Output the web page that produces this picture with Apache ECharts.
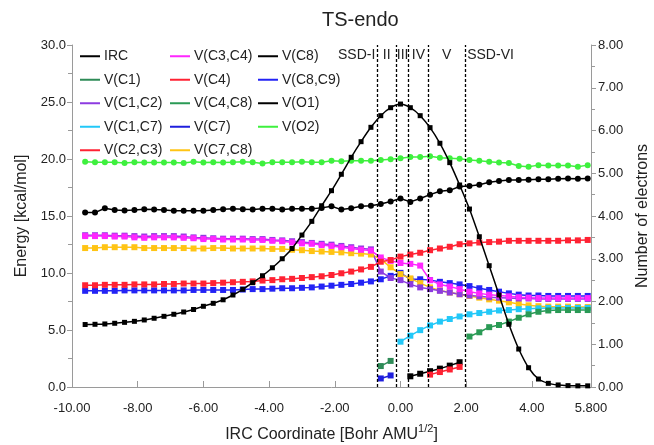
<!DOCTYPE html>
<html><head><meta charset="utf-8">
<script src="https://cdn.jsdelivr.net/npm/echarts/dist/echarts.min.js"></script>
<style>html,body{margin:0;padding:0;background:#fff}#c{width:654px;height:445px}</style>
</head><body><div id="c"></div>
<script>
// ---- data ----
const xs = [-9.6,-9.3,-9.0,-8.7,-8.4,-8.1,-7.8,-7.5,-7.2,-6.9,-6.6,-6.3,-6.0,-5.7,-5.4,-5.1,-4.8,-4.5,-4.2,-3.9,-3.6,-3.3,-3.0,-2.7,-2.4,-2.1,-1.8,-1.5,-1.2,-0.9,-0.6,-0.3,0.0,0.3,0.6,0.9,1.2,1.5,1.8,2.1,2.4,2.7,3.0,3.3,3.6,3.9,4.2,4.5,4.8,5.1,5.4,5.7];
const IRC = [5.48,5.50,5.53,5.59,5.67,5.76,5.88,6.03,6.20,6.38,6.58,6.80,7.08,7.34,7.65,8.07,8.57,9.15,9.76,10.46,11.25,12.15,13.33,14.53,15.90,17.22,18.66,20.15,21.52,22.78,23.80,24.50,24.82,24.50,23.80,22.75,21.38,19.68,17.72,15.61,13.18,10.64,8.07,5.50,3.33,1.69,0.70,0.32,0.18,0.12,0.10,0.10];
const V_O2 = [5.27,5.26,5.26,5.26,5.24,5.26,5.25,5.25,5.25,5.25,5.24,5.27,5.25,5.26,5.25,5.26,5.27,5.26,5.23,5.26,5.26,5.26,5.27,5.26,5.26,5.29,5.28,5.29,5.29,5.29,5.31,5.33,5.35,5.38,5.38,5.40,5.36,5.35,5.34,5.31,5.29,5.27,5.25,5.24,5.17,5.15,5.19,5.18,5.18,5.18,5.15,5.19];
const V_O1 = [4.08,4.08,4.18,4.14,4.13,4.14,4.16,4.15,4.14,4.12,4.12,4.12,4.12,4.14,4.16,4.17,4.16,4.15,4.17,4.17,4.15,4.17,4.17,4.17,4.19,4.23,4.15,4.18,4.23,4.24,4.28,4.34,4.41,4.33,4.41,4.50,4.58,4.60,4.69,4.70,4.73,4.79,4.82,4.84,4.84,4.85,4.86,4.86,4.87,4.88,4.87,4.88];
const V_C2C3 = [2.38,2.38,2.39,2.39,2.39,2.40,2.40,2.40,2.41,2.41,2.42,2.42,2.42,2.43,2.44,2.45,2.46,2.47,2.49,2.50,2.52,2.53,2.55,2.57,2.59,2.62,2.66,2.70,2.75,2.81,2.93,2.97,3.05,3.10,3.14,3.20,3.24,3.28,3.34,3.36,3.38,3.39,3.40,3.42,3.42,3.42,3.42,3.42,3.42,3.43,3.43,3.44];
const V_C8C9 = [2.25,2.25,2.25,2.25,2.26,2.26,2.26,2.26,2.26,2.26,2.26,2.27,2.27,2.27,2.27,2.27,2.28,2.29,2.29,2.30,2.31,2.31,2.32,2.33,2.35,2.37,2.39,2.41,2.44,2.47,2.52,2.60,2.67,2.52,2.52,2.50,2.46,2.43,2.40,2.36,2.31,2.27,2.23,2.19,2.16,2.14,2.14,2.13,2.13,2.13,2.13,2.13];
const V_C7C8 = [3.25,3.25,3.27,3.27,3.27,3.27,3.25,3.25,3.25,3.25,3.25,3.24,3.24,3.25,3.25,3.24,3.24,3.24,3.24,3.23,3.23,3.21,3.20,3.18,3.17,3.16,3.15,3.13,3.12,3.10,2.99,2.80,2.64,2.54,2.43,2.33,2.26,2.21,2.17,2.13,2.09,2.05,2.02,1.98,1.94,1.91,1.89,1.88,1.88,1.88,1.87,1.87];
const V_C3C4 = [3.53,3.53,3.53,3.52,3.52,3.50,3.49,3.50,3.50,3.50,3.49,3.48,3.46,3.46,3.45,3.45,3.45,3.44,3.44,3.42,3.41,3.38,3.36,3.35,3.32,3.30,3.27,3.24,3.21,3.19,3.03,2.95,2.90,2.88,2.84,2.50,2.40,2.35,2.29,2.23,2.19,2.16,2.14,2.12,2.10,2.09,2.08,2.08,2.08,2.08,2.08,2.08];
const V_C1C2 = [3.55,3.55,3.55,3.54,3.54,3.53,3.52,3.53,3.53,3.53,3.52,3.50,3.49,3.48,3.47,3.47,3.47,3.46,3.46,3.44,3.43,3.41,3.39,3.37,3.35,3.33,3.30,3.27,3.24,3.22,2.70,2.55,2.50,2.40,2.33,2.29,2.25,2.21,2.17,2.14,2.12,2.10,2.09,2.08,2.07,2.07,2.06,2.06,2.06,2.06,2.06,2.06];
const V_C1C7_X = [0.0,0.3,0.6,0.9,1.2,1.5,1.8,2.1,2.4,2.7,3.0,3.3,3.6,3.9,4.2,4.5,4.8,5.1,5.4,5.7];
const V_C1C7 = [1.06,1.20,1.33,1.44,1.53,1.59,1.65,1.70,1.73,1.76,1.79,1.80,1.82,1.83,1.84,1.85,1.85,1.85,1.85,1.85];
const V_C4C8_X = [2.1,2.4,2.7,3.0,3.3,3.6,3.9,4.2,4.5,4.8,5.1,5.4,5.7];
const V_C4C8 = [1.18,1.28,1.40,1.45,1.53,1.62,1.70,1.76,1.79,1.80,1.80,1.80,1.80];
const V_C1_X = [-0.6,-0.3];
const V_C1 = [0.49,0.61];
const V_C7_X = [-0.6,-0.3];
const V_C7 = [0.20,0.27];
const V_C8_X = [0.3,0.6,0.9,1.2,1.5,1.8];
const V_C8 = [0.25,0.31,0.37,0.43,0.50,0.58];
const V_C4_X = [0.9,1.2,1.5,1.8];
const V_C4 = [0.29,0.35,0.41,0.47];
const SSD_BOUNDS = [-0.72,-0.12,0.25,0.84,1.97];
const SSD_NAMES = ['SSD-I','II','III','IV','V','SSD-VI'];
const LEFT_TICKS = [0,5,10,15,20,25,30];
const RIGHT_TICKS = [0,1,2,3,4,5,6,7,8];

// ---- chart ----
const FONT = 'Liberation Sans, Arial, Helvetica, sans-serif';
const TXT = '#222';
const AX = '#9a9a9a';
function pairs(x, y){ return x.map((v,i)=>[v, y[i]]); }
function ser(name, x, y, color, yIdx, symbol, size, z){
  return {name, type:'line', yAxisIndex:yIdx, data:pairs(x,y), symbol, symbolSize:size,
    showSymbol:true, showAllSymbol:true, lineStyle:{color, width:1.5}, itemStyle:{color},
    emphasis:{disabled:true}, animation:false, z:z||2, smooth: name==='IRC' ? 0.25 : false};
}
const series = [
  ser('V(C8,C9)', xs, V_C8C9, '#2323f5', 1, 'rect', 6),
  ser('V(C7,C8)', xs, V_C7C8, '#ffc414', 1, 'rect', 6),
  ser('V(C1,C2)', xs, V_C1C2, '#8d3be0', 1, 'rect', 6),
  ser('V(C3,C4)', xs, V_C3C4, '#ff26ff', 1, 'rect', 6),
  ser('V(C2,C3)', xs, V_C2C3, '#ff2233', 1, 'rect', 6),
  ser('V(C1,C7)', V_C1C7_X, V_C1C7, '#22c8f8', 1, 'rect', 6),
  ser('V(C4,C8)', V_C4C8_X, V_C4C8, '#2a9a55', 1, 'rect', 6),
  ser('V(C1)', V_C1_X, V_C1, '#2e8b57', 1, 'rect', 6),
  ser('V(C7)', V_C7_X, V_C7, '#1f1fdd', 1, 'rect', 6),
  ser('V(C8)', V_C8_X, V_C8, '#000000', 1, 'rect', 6),
  ser('V(C4)', V_C4_X, V_C4, '#ff2233', 1, 'rect', 6),
  ser('V(O2)', xs, V_O2, '#3ef03e', 1, 'circle', 6),
  ser('V(O1)', xs, V_O1, '#000000', 1, 'circle', 6),
  ser('IRC', xs, IRC, '#000000', 0, 'rect', 5, 3)
];
// dashed SSD boundaries as a markLine on the IRC series
series[series.length-1].markLine = {silent:true, symbol:['none','none'], animation:false,
  label:{show:false}, lineStyle:{type:[3,2], color:'#000', width:1.3},
  emphasis:{disabled:true},
  data: SSD_BOUNDS.map(v=>({xAxis:v}))};

function legend(names, left){
  return {data:names, orient:'vertical', left, top:43, itemGap:7, itemWidth:20, itemHeight:2,
    icon:'rect', selectedMode:false,
    textStyle:{fontFamily:FONT, fontSize:14, color:TXT, lineHeight:16.5, padding:[0,0,0,-1]}};
}

const chart = echarts.init(document.getElementById('c'), null, {renderer:'canvas'});
const option = {
  animation:false,
  backgroundColor:'#fff',
  textStyle:{fontFamily:FONT},
  title:{text:'TS-endo', left:317, top:5, textStyle:{fontFamily:FONT, fontSize:20, fontWeight:'normal', color:TXT}},
  legend:[
    legend(['IRC','V(C1)','V(C1,C2)','V(C1,C7)','V(C2,C3)'], 75),
    legend(['V(C3,C4)','V(C4)','V(C4,C8)','V(C7)','V(C7,C8)'], 165),
    legend(['V(C8)','V(C8,C9)','V(O1)','V(O2)'], 253)
  ],
  grid:{left:72, right:63, top:45, bottom:58, containLabel:false, outerBoundsMode:'none'},
  xAxis:{type:'value', min:-10, max:5.8, interval:2,
    name:'{a|IRC Coordinate [Bohr AMU}{s|1/2}{a|]}', nameLocation:'middle', nameGap:36,
    nameTextStyle:{rich:{a:{fontFamily:FONT, fontSize:16, color:TXT, lineHeight:20, verticalAlign:'bottom'},
                         s:{fontFamily:FONT, fontSize:11, color:TXT, lineHeight:20, verticalAlign:'top'}}},
    axisLine:{onZero:false, lineStyle:{color:AX}}, axisTick:{inside:true, length:6, lineStyle:{color:AX}},
    axisLabel:{fontFamily:FONT, fontSize:13, color:TXT, margin:15, showMaxLabel:true, hideOverlap:false,
      formatter:v=> Math.abs(v-5.8)<1e-6 ? '5.800' : v.toFixed(2)},
    splitLine:{show:false}},
  yAxis:[
    {type:'value', min:LEFT_TICKS[0], max:LEFT_TICKS[LEFT_TICKS.length-1], interval:5, position:'left',
      name:'Energy [kcal/mol]', nameLocation:'middle', nameGap:40, nameRotate:90,
      nameTextStyle:{fontFamily:FONT, fontSize:16, color:TXT},
      axisLine:{show:true, onZero:false, lineStyle:{color:AX}}, axisTick:{show:true, length:5, lineStyle:{color:AX}},
      minorTick:{show:true, splitNumber:2, length:4, lineStyle:{color:AX}},
      axisLabel:{fontFamily:FONT, fontSize:13, color:TXT, margin:6, formatter:v=>v.toFixed(1)},
      splitLine:{show:false}},
    {type:'value', min:RIGHT_TICKS[0], max:RIGHT_TICKS[RIGHT_TICKS.length-1], interval:1, position:'right',
      name:'Number of electrons', nameLocation:'middle', nameGap:44, nameRotate:90,
      nameTextStyle:{fontFamily:FONT, fontSize:16, color:TXT},
      axisLine:{show:true, onZero:false, lineStyle:{color:AX}}, axisTick:{show:true, length:5, lineStyle:{color:AX}},
      minorTick:{show:true, splitNumber:2, length:4, lineStyle:{color:AX}},
      axisLabel:{fontFamily:FONT, fontSize:13, color:TXT, margin:7, formatter:v=>v.toFixed(2)},
      splitLine:{show:false}}
  ],
  series
};
chart.setOption(option);

// SSD region labels placed through the axis scales
const LABEL_Y = 29.1;
const mid = (a,b)=>(a+b)/2;
const px = v => chart.convertToPixel({xAxisIndex:0}, v);
const py = chart.convertToPixel({yAxisIndex:0}, LABEL_Y);
const lab = [
  {t:SSD_NAMES[0], x:px(SSD_BOUNDS[0])-1.5, a:'right'},
  {t:SSD_NAMES[1], x:px(mid(SSD_BOUNDS[0],SSD_BOUNDS[1])), a:'center'},
  {t:SSD_NAMES[2], x:px(mid(SSD_BOUNDS[1],SSD_BOUNDS[2])), a:'center'},
  {t:SSD_NAMES[3], x:px(mid(SSD_BOUNDS[2],SSD_BOUNDS[3])), a:'center'},
  {t:SSD_NAMES[4], x:px(mid(SSD_BOUNDS[3],SSD_BOUNDS[4])), a:'center'},
  {t:SSD_NAMES[5], x:px(SSD_BOUNDS[4])+2, a:'left'}
];
chart.setOption({graphic: lab.map(l=>({type:'text', x:l.x, y:py, z:100, silent:true,
  style:{text:l.t, fill:TXT, font:'14px ' + FONT, textAlign:l.a, textVerticalAlign:'middle'}}))});
</script></body></html>
